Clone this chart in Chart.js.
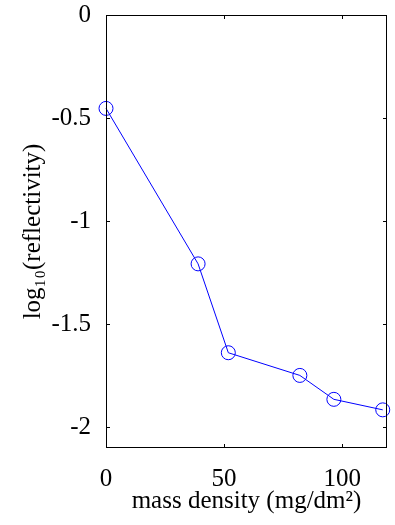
<!DOCTYPE html>
<html>
<head>
<meta charset="utf-8">
<script src="https://cdn.jsdelivr.net/npm/chart.js@4/dist/chart.umd.min.js"></script>
<style>
  body { margin: 0; background: #fff; }
  canvas { display: block; }
</style>
</head>
<body>
<canvas id="refl" width="395" height="525"></canvas>
<script>
// data
const massDensity = [0, 39, 51.8, 82.1, 96.5, 117.2];
const logReflectivity = [-0.453, -1.207, -1.638, -1.748, -1.864, -1.915];
const xTicks = [0, 50, 100];
const yTicks = [-2, -1.5, -1, -0.5, 0];

const serif = '"Liberation Serif", "DejaVu Serif", serif';

// matlab style box with inward ticks
const boxPlugin = {
    id: 'box',
    afterDraw(chart) {
        const ctx = chart.ctx;
        const a = chart.chartArea;
        const xs = chart.scales.x, ys = chart.scales.y;
        const len = 4;
        ctx.save();
        ctx.strokeStyle = '#000';
        ctx.lineWidth = 1;
        ctx.strokeRect(a.left + 0.5, a.top + 0.5, a.right - a.left - 1, a.bottom - a.top - 1);
        ctx.beginPath();
        xTicks.forEach(v => {
            const px = Math.round(xs.getPixelForValue(v)) + 0.5;
            ctx.moveTo(px, a.bottom); ctx.lineTo(px, a.bottom - len);
            ctx.moveTo(px, a.top); ctx.lineTo(px, a.top + len);
        });
        yTicks.forEach(v => {
            const py = Math.round(ys.getPixelForValue(v)) + 0.5;
            ctx.moveTo(a.left, py); ctx.lineTo(a.left + len, py);
            ctx.moveTo(a.right, py); ctx.lineTo(a.right - len, py);
        });
        ctx.stroke();
        ctx.restore();
    }
};

function noPad(axis) {
    axis.paddingTop = 0;
    axis.paddingBottom = 0;
    axis.paddingLeft = 0;
    axis.paddingRight = 0;
}

const ctx = document.getElementById('refl').getContext('2d');
const chart = new Chart(ctx, {
    type: 'line',
    data: {
        datasets: [{
            data: massDensity.map((x, i) => ({ x: x, y: logReflectivity[i] })),
            borderColor: '#0000ff',
            borderWidth: 1,
            pointStyle: 'circle',
            pointRadius: 7,
            pointBorderWidth: 1,
            pointBorderColor: '#0000ff',
            pointBackgroundColor: 'rgba(0,0,0,0)',
            tension: 0,
            clip: false
        }]
    },
    options: {
        responsive: false,
        animation: false,
        layout: { padding: { top: 15, right: 0, left: 0, bottom: 0 } },
        plugins: {
            legend: { display: false },
            tooltip: { enabled: false }
        },
        scales: {
            x: {
                type: 'linear',
                min: 0,
                max: 119,
                afterBuildTicks: axis => { axis.ticks = xTicks.map(v => ({ value: v })); },
                afterFit: axis => { axis.height = 77; noPad(axis); },
                grid: { display: false },
                border: { display: false },
                ticks: {
                    color: '#000',
                    padding: 8,
                    maxRotation: 0,
                    font: { family: serif, size: 25 },
                    callback: v => String(v)
                },
                title: {
                    display: true,
                    text: 'mass density (mg/dm²)',
                    color: '#000',
                    font: { family: serif, size: 25 },
                    padding: { bottom: 9 }
                }
            },
            y: {
                type: 'linear',
                min: -2.1,
                max: 0,
                afterBuildTicks: axis => { axis.ticks = yTicks.map(v => ({ value: v })); },
                afterFit: axis => { axis.width = 106; noPad(axis); },
                grid: { display: false },
                border: { display: false },
                ticks: {
                    color: '#000',
                    padding: 7,
                    font: { family: serif, size: 25 },
                    callback: v => String(v)
                },
                title: {
                    display: true,
                    text: 'log₁₀(reflectivity)',
                    color: '#000',
                    font: { family: serif, size: 25 },
                    padding: { top: 18 }
                }
            }
        }
    },
    plugins: [boxPlugin]
});
</script>
</body>
</html>
